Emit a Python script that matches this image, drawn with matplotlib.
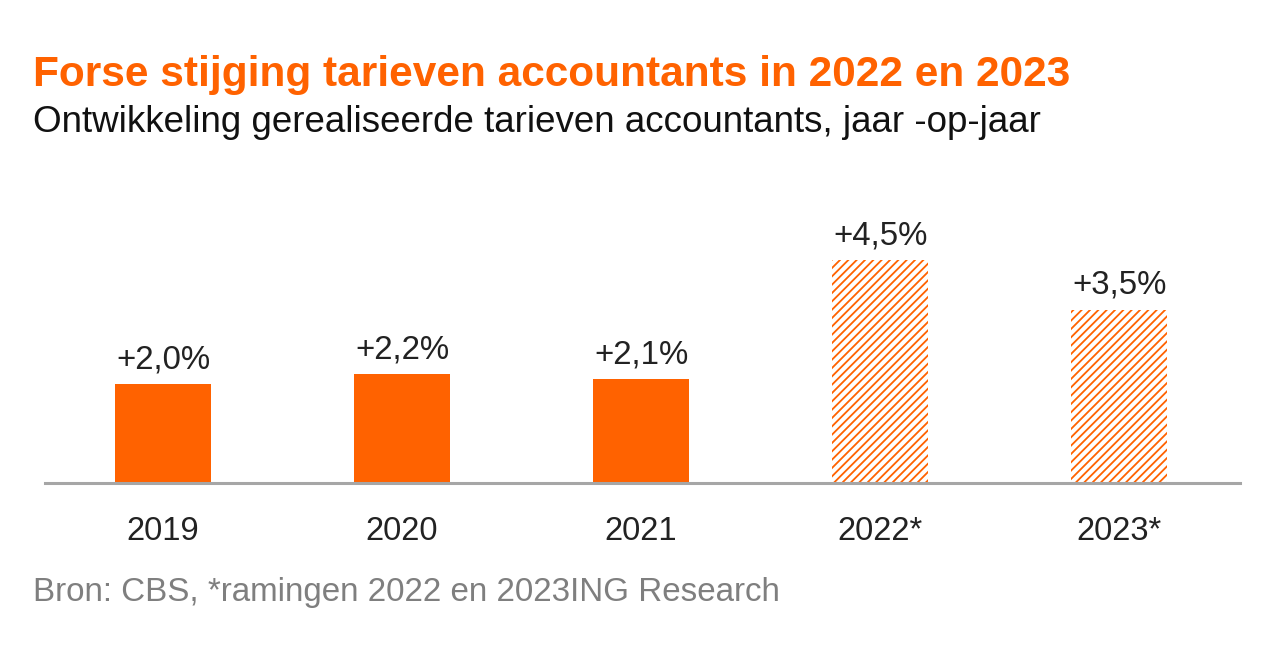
import matplotlib.pyplot as plt

plt.rcParams['font.family'] = ['Liberation Sans', 'DejaVu Sans']
plt.rcParams['hatch.linewidth'] = 1.3

years = ['2019', '2020', '2021', '2022*', '2023*']
growth = [2.0, 2.2, 2.1, 4.5, 3.5]
labels = ['+2,0%', '+2,2%', '+2,1%', '+4,5%', '+3,5%']
estimate = [False, False, False, True, True]

orange = '#FF6200'

fig = plt.figure(figsize=(12.8, 6.64), dpi=100)
ax = fig.add_axes([45 / 1280, 1 - 483 / 664, 1195 / 1280, 247.5 / 664])

for i, (v, est) in enumerate(zip(growth, estimate)):
    if est:
        ax.bar(i, v, width=0.4, color='white', edgecolor=orange, hatch='////', linewidth=0)
    else:
        ax.bar(i, v, width=0.4, color=orange, linewidth=0)
    ax.text(i, v + 0.32, labels[i], ha='center', va='baseline', fontsize=23.8, color='#222222')

ax.set_xlim(-0.494, 4.506)
ax.set_ylim(0, 5)
ax.set_xticks(range(len(years)))
ax.set_xticklabels(years, fontsize=23.5, color='#222222')
for lbl in ax.get_xticklabels():
    lbl.set_va('baseline')
ax.tick_params(axis='x', length=0, pad=41)
ax.set_yticks([])
for s in ['top', 'right', 'left']:
    ax.spines[s].set_visible(False)
ax.spines['bottom'].set_color('#A6A6A6')
ax.spines['bottom'].set_linewidth(2.2)

fig.text(33 / 1280, 1 - 86 / 664, 'Forse stijging tarieven accountants in 2022 en 2023',
         fontsize=30.5, fontweight='bold', color=orange, va='baseline')
fig.text(33 / 1280, 1 - 132 / 664, 'Ontwikkeling gerealiseerde tarieven accountants, jaar -op-jaar',
         fontsize=26.5, color='#111111', va='baseline')
fig.text(33 / 1280, 1 - 601 / 664, 'Bron: CBS, *ramingen 2022 en 2023ING Research',
         fontsize=23.9, color='#7F7F7F', va='baseline')

fig.savefig('out.png', dpi=100)
